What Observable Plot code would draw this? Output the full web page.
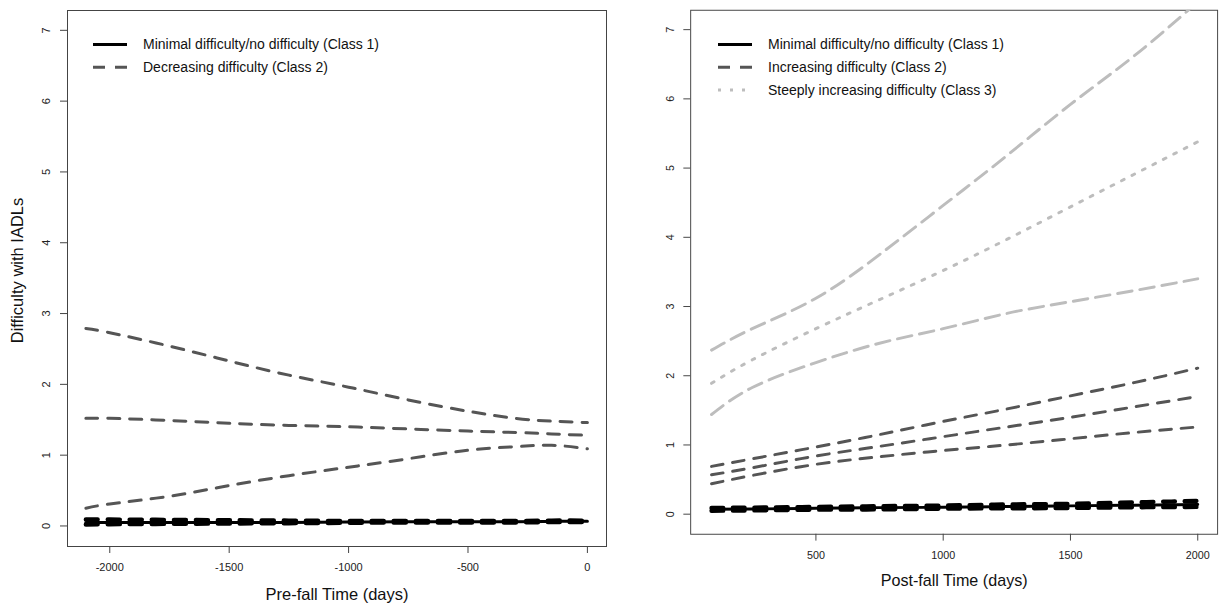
<!DOCTYPE html>
<html><head><meta charset="utf-8">
<script src="https://cdn.jsdelivr.net/npm/d3@7"></script>
<script src="https://cdn.jsdelivr.net/npm/@observablehq/plot@0.6"></script>
<style>
html,body{margin:0;padding:0;background:#fff;}
#wrap{position:relative;width:1222px;height:604px;overflow:hidden;font-family:"Liberation Sans",Arial,sans-serif;}
.panel{position:absolute;top:0;}
</style></head><body><div id="wrap"></div>
<script>
// ---- text / ticks ----
const yTicks = [0, 1, 2, 3, 4, 5, 6, 7];
const preTicks = [-2000, -1500, -1000, -500, 0];
const postTicks = [500, 1000, 1500, 2000];
const yTitle = "Difficulty with IADLs";
const preTitle = "Pre-fall Time (days)";
const postTitle = "Post-fall Time (days)";
const preLegend = ["Minimal difficulty/no difficulty (Class 1)", "Decreasing difficulty (Class 2)"];
const postLegend = ["Minimal difficulty/no difficulty (Class 1)", "Increasing difficulty (Class 2)", "Steeply increasing difficulty (Class 3)"];

// ---- pre-fall panel data ----
const preDays = [-2100, -2000, -1750, -1500, -1250, -1000, -750, -500, -300, -150, 0];
const pre1   = [0.05, 0.05, 0.05, 0.05, 0.05, 0.055, 0.06, 0.06, 0.06, 0.065, 0.065];
const pre1Lo = [0.02, 0.025, 0.03, 0.035, 0.04, 0.045, 0.05, 0.05, 0.05, 0.055, 0.055];
const pre1Hi = [0.09, 0.09, 0.085, 0.08, 0.075, 0.07, 0.07, 0.07, 0.07, 0.075, 0.075];
const pre2   = [1.52, 1.52, 1.49, 1.45, 1.42, 1.40, 1.37, 1.34, 1.32, 1.30, 1.28];
const pre2Lo = [0.25, 0.31, 0.42, 0.57, 0.71, 0.83, 0.95, 1.07, 1.12, 1.14, 1.09];
const pre2Hi = [2.79, 2.73, 2.54, 2.33, 2.13, 1.96, 1.78, 1.62, 1.52, 1.48, 1.46];

// ---- post-fall panel data ----
const postDays = [90, 250, 500, 750, 1000, 1250, 1500, 1750, 2000];
const post1   = [0.07, 0.075, 0.085, 0.095, 0.10, 0.11, 0.12, 0.13, 0.14];
const post1Lo = [0.05, 0.055, 0.065, 0.07, 0.08, 0.085, 0.09, 0.10, 0.105];
const post1Hi = [0.09, 0.095, 0.105, 0.115, 0.125, 0.14, 0.15, 0.17, 0.19];
const post2   = [0.57, 0.67, 0.84, 0.98, 1.12, 1.26, 1.40, 1.55, 1.70];
const post2Lo = [0.44, 0.56, 0.72, 0.83, 0.92, 1.00, 1.09, 1.18, 1.26];
const post2Hi = [0.69, 0.80, 0.97, 1.15, 1.34, 1.52, 1.71, 1.90, 2.11];
const post3   = [1.89, 2.23, 2.68, 3.10, 3.52, 3.97, 4.44, 4.91, 5.38];
const post3Lo = [1.44, 1.83, 2.19, 2.47, 2.68, 2.90, 3.07, 3.23, 3.40];
const post3Hi = [2.37, 2.68, 3.12, 3.75, 4.46, 5.18, 5.92, 6.62, 7.40];

// ---- styles ----
const S = {
  c1:   {stroke: "#000", strokeWidth: 3},
  c1ci: {stroke: "#000", strokeWidth: 4.5, strokeDasharray: "12,10"},
  c2:   {stroke: "#555", strokeWidth: 3, strokeDasharray: "12,10"},
  c3ci: {stroke: "#bdbdbd", strokeWidth: 3, strokeDasharray: "15,8"},
  c3:   {stroke: "#bdbdbd", strokeWidth: 3, strokeDasharray: "3,9"}
};
const rows = (days, vals) => days.map((d, i) => ({day: d, v: vals[i]}));
const line = (days, vals, st) => Plot.line(rows(days, vals), {x: "day", y: "v", curve: "natural", clip: true, ...st});

const FONT = '"Liberation Sans", Arial, sans-serif';
const wrap = document.getElementById("wrap");

function panel({left, width, marginLeft, xDomain, xTicks, xTitle, withYTitle, series, legend, legendStyles}) {
  const marks = [
    Plot.frame({stroke: "#444", strokeWidth: 1}),
    Plot.axisX(xTicks, {tickSize: 7, tickPadding: 10, tickFormat: d => String(d), stroke: "#444", fill: "#222", fontSize: 11, label: null}),
    Plot.axisY(yTicks, {tickSize: 7, tickFormat: d => "", stroke: "#444", fill: "none", label: null}),
    Plot.text(yTicks, {y: d => d, text: d => String(d), frameAnchor: "left", textAnchor: "middle", lineAnchor: "middle", dx: -21, rotate: -90, fontSize: 11, fill: "#222"}),
    ...series,
    Plot.text([xTitle], {text: d => d, frameAnchor: "bottom", textAnchor: "middle", lineAnchor: "middle", dy: 48, fontSize: 16.5, fill: "#111"})
  ];
  if (withYTitle) marks.push(Plot.text([yTitle], {text: d => d, frameAnchor: "left", textAnchor: "middle", lineAnchor: "middle", dx: -50, dy: -8, rotate: -90, fontSize: 16.5, fill: "#111"}));
  const svg = Plot.plot({
    width, height: 604,
    marginLeft, marginRight: 5, marginTop: 10, marginBottom: 58,
    style: {fontFamily: FONT, fontSize: "11px", background: "transparent", overflow: "visible"},
    x: {domain: xDomain},
    y: {domain: [-0.29, 7.28]},
    marks
  });
  const div = document.createElement("div");
  div.className = "panel";
  div.style.left = left + "px";
  div.appendChild(svg);
  wrap.appendChild(div);

  // legend (top-left inside frame)
  const lg = d3.select(div).append("svg")
    .attr("width", 420).attr("height", 110)
    .style("position", "absolute").style("left", (marginLeft + 26) + "px").style("top", "0px");
  legend.forEach((lab, i) => {
    const y = 44.5 + i * 22.8;
    const st = legendStyles[i];
    lg.append("line").attr("x1", 0).attr("x2", 34).attr("y1", y).attr("y2", y)
      .attr("stroke", st.stroke).attr("stroke-width", st.strokeWidth)
      .attr("stroke-dasharray", st.strokeDasharray || null);
    lg.append("text").attr("x", 50).attr("y", y).attr("dy", "0.35em")
      .attr("font-family", FONT).attr("font-size", 14).attr("fill", "#111").text(lab);
  });
}

panel({
  left: 0, width: 611, marginLeft: 67, xDomain: [-2177, 80], xTicks: preTicks, xTitle: preTitle, withYTitle: true,
  series: [
    line(preDays, pre2Hi, S.c2), line(preDays, pre2Lo, S.c2), line(preDays, pre2, S.c2),
    line(preDays, pre1Lo, S.c1ci), line(preDays, pre1Hi, S.c1ci), line(preDays, pre1, S.c1)
  ],
  legend: preLegend, legendStyles: [S.c1, S.c2]
});

panel({
  left: 611, width: 625, marginLeft: 81, xDomain: [8, 2078], xTicks: postTicks, xTitle: postTitle, withYTitle: false,
  series: [
    line(postDays, post3Hi, S.c3ci), line(postDays, post3Lo, S.c3ci), line(postDays, post3, S.c3),
    line(postDays, post2Hi, S.c2), line(postDays, post2Lo, S.c2), line(postDays, post2, S.c2),
    line(postDays, post1Lo, S.c1ci), line(postDays, post1Hi, S.c1ci), line(postDays, post1, S.c1)
  ],
  legend: postLegend, legendStyles: [S.c1, S.c2, S.c3]
});
</script></body></html>
